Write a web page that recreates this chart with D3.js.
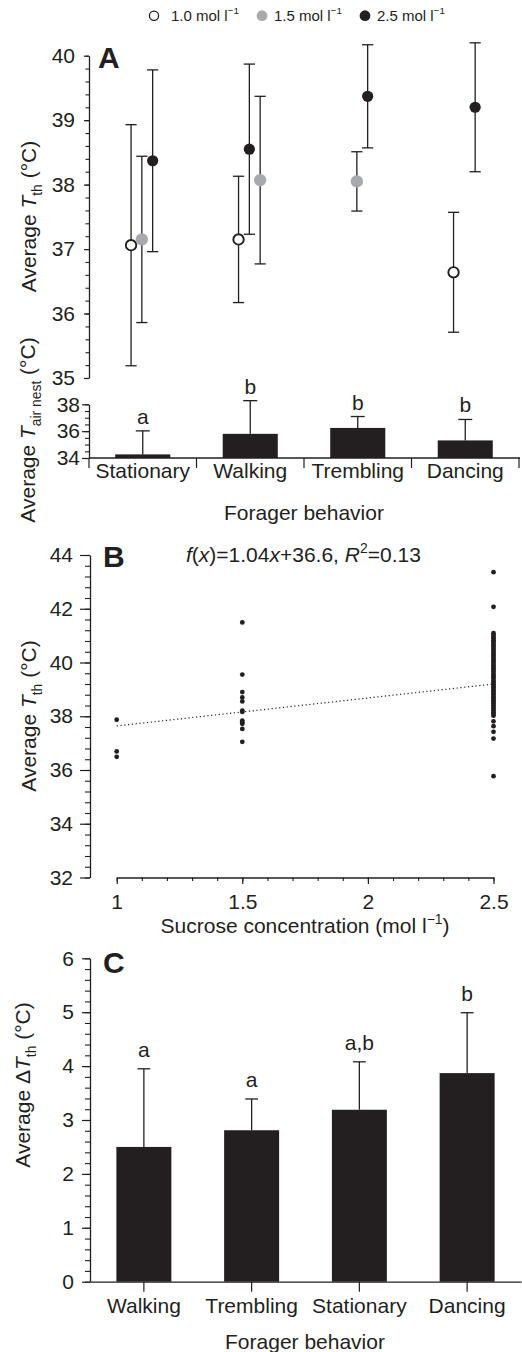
<!DOCTYPE html>
<html>
<head>
<meta charset="utf-8">
<script src="https://cdn.jsdelivr.net/npm/d3@7"></script>
<style>
body { margin: 0; background: #fff; }
text { font-family: "Liberation Sans", Arial, Helvetica, sans-serif; fill: #231f20; }
</style>
</head>
<body>
<div id="chartDiv"></div>
<script>
// ---- data ----
var behaviorsA = ["Stationary", "Walking", "Trembling", "Dancing"];
var concLabels = ["1.0", "1.5", "2.5"];

// panel A, thorax temperature per behavior and sucrose concentration
var tthBehavior = ["Stationary", "Stationary", "Stationary", "Walking", "Walking", "Walking", "Trembling", "Trembling", "Dancing", "Dancing"];
var tthConc     = ["1.0", "1.5", "2.5", "1.0", "2.5", "1.5", "1.5", "2.5", "1.0", "2.5"];
var tthSlot     = [0, 1, 2, 0, 1, 2, 1, 2, 0, 2];
var tthMean     = [37.06, 37.15, 38.37, 37.15, 38.55, 38.07, 38.05, 39.37, 36.64, 39.20];
var tthSd       = [1.87, 1.29, 1.41, 0.98, 1.32, 1.30, 0.46, 0.80, 0.93, 1.00];

// panel A, nest air temperature
var airMean    = [34.27, 35.80, 36.24, 35.31];
var airSd      = [1.75, 2.47, 0.85, 1.56];
var airLetters = ["a", "b", "b", "b"];

// panel B, individual foragers
var conc1  = [37.87, 36.69, 36.49];
var conc15 = [41.49, 39.55, 38.90, 38.70, 38.55, 38.21, 38.16, 37.84, 37.78, 37.72, 37.53, 37.05];
var conc25 = [43.36, 42.07, 41.09, 41.02, 40.96, 40.90, 40.83, 40.78, 40.71, 40.64, 40.58, 40.51,
              40.45, 40.37, 40.31, 40.24, 40.18, 40.11, 40.05, 39.98, 39.91, 39.85, 39.79, 39.72,
              39.66, 39.58, 39.52, 39.45, 39.39, 39.31, 39.26, 39.19, 39.12, 39.06, 38.99, 38.93,
              38.86, 38.80, 38.73, 38.67, 38.60, 38.54, 38.47, 38.41, 38.34, 38.28, 38.21, 38.15,
              38.08, 38.02, 37.81, 37.63, 37.42, 37.17, 35.77];
var fitSlope = 1.04, fitIntercept = 36.6;

// panel C, delta T
var behaviorsC   = ["Walking", "Trembling", "Stationary", "Dancing"];
var deltaMean    = [2.50, 2.81, 3.19, 3.87];
var deltaSd      = [1.45, 0.58, 0.89, 1.12];
var deltaLetters = ["a", "a", "a,b", "b"];

// ---- setup ----
var ink = "#231f20", grey = "#a7a9ac";
var fs = 21;

var svg = d3.select("#chartDiv").append("svg")
    .attr("width", 522).attr("height", 1352);

// text with italic / sub / sup pieces
function rich(sel, parts, size) {
  var shift = 0;
  parts.forEach(function(p) {
    var t = sel.append("tspan").text(p.t);
    var want = p.sub ? size * 0.28 : (p.sup ? -size * 0.42 : 0);
    if (want != shift) { t.attr("dy", want - shift); shift = want; }
    if (p.i) t.style("font-style", "italic");
    if (p.sub || p.sup) t.style("font-size", (size * 0.66) + "px");
  });
  return sel;
}

function styleAxis(g) {
  g.selectAll("path.domain").attr("stroke", ink).attr("stroke-width", 1.3);
  g.selectAll(".tick line").attr("stroke", ink).attr("stroke-width", 1.2);
  g.selectAll(".tick text").style("font-size", fs + "px").attr("fill", ink)
    .style("font-family", "'Liberation Sans', Arial, sans-serif");
}

function minor(g) {
  g.select("path.domain").remove();
  g.selectAll(".tick text").remove();
  g.selectAll(".tick line").attr("stroke", ink).attr("stroke-width", 1.1);
}

function yLabel(x, y, parts) {
  var t = svg.append("text")
    .attr("transform", "translate(" + x + "," + y + ") rotate(-90)")
    .attr("text-anchor", "middle").style("font-size", fs + "px");
  rich(t, parts, fs);
}

function panelLetter(x, y, s) {
  svg.append("text").attr("x", x).attr("y", y)
    .style("font-size", "30px").style("font-weight", "bold").text(s);
}

// ---- legend ----
var legendX = [154, 262, 365], legendGap = [17, 12, 12];
var concFill = {"1.0": "#fff", "1.5": grey, "2.5": ink};
var concStroke = {"1.0": ink, "1.5": "none", "2.5": "none"};
concLabels.forEach(function(c, i) {
  svg.append("circle").attr("cx", legendX[i]).attr("cy", 15.7)
    .attr("r", c == "1.0" ? 4.6 : 5.4)
    .attr("fill", concFill[c]).attr("stroke", concStroke[c]).attr("stroke-width", 1.3);
  var t = svg.append("text").attr("x", legendX[i] + legendGap[i]).attr("y", 20.7)
    .style("font-size", "15px");
  rich(t, [{t: c + " mol l"}, {t: "\u22121", sup: true}], 15);
});

// ---- panel A (top: thorax temperature) ----
var xA = d3.scaleBand().domain(behaviorsA).range([89, 519]);
var yA = d3.scaleLinear().domain([35, 40]).range([378, 55.7]);
var slot = d3.scalePoint().domain([0, 1, 2]).range([-11.7, 9.9]);

svg.append("g").attr("transform", "translate(89,0)")
  .call(d3.axisLeft(yA).tickValues(d3.range(35, 40.01, 0.2)).tickSize(3.5).tickFormat(""))
  .call(minor);
svg.append("g").attr("transform", "translate(89,0)")
  .call(d3.axisLeft(yA).ticks(5).tickSize(5).tickSizeOuter(0).tickPadding(9))
  .call(styleAxis);

var tth = tthMean.map(function(m, i) {
  return {b: tthBehavior[i], c: tthConc[i], s: tthSlot[i], m: m, sd: tthSd[i]};
});
var ptX = function(d) { return xA(d.b) + xA.bandwidth() / 2 + slot(d.s); };

var eb = svg.append("g").selectAll("g").data(tth).enter().append("g");
eb.append("line").attr("x1", ptX).attr("x2", ptX)
  .attr("y1", function(d) { return yA(d.m - d.sd); })
  .attr("y2", function(d) { return yA(d.m + d.sd); })
  .attr("stroke", ink).attr("stroke-width", 1.3);
[-1, 1].forEach(function(k) {
  eb.append("line")
    .attr("x1", function(d) { return ptX(d) - 5.6; })
    .attr("x2", function(d) { return ptX(d) + 5.6; })
    .attr("y1", function(d) { return yA(d.m + k * d.sd); })
    .attr("y2", function(d) { return yA(d.m + k * d.sd); })
    .attr("stroke", ink).attr("stroke-width", 1.3);
});
eb.append("circle").attr("cx", ptX).attr("cy", function(d) { return yA(d.m); })
  .attr("r", function(d) { return d.c == "1.0" ? 5.2 : (d.c == "1.5" ? 6.2 : 5.6); })
  .attr("fill", function(d) { return concFill[d.c]; })
  .attr("stroke", function(d) { return concStroke[d.c]; })
  .attr("stroke-width", 1.9);

panelLetter(98, 68, "A");
yLabel(36, 216.5, [{t: "Average "}, {t: "T", i: true}, {t: "th", sub: true}, {t: " (\u00b0C)"}]);

// ---- panel A (bottom: nest air temperature) ----
var xAb = d3.scaleBand().domain(behaviorsA).range([89, 519]).paddingInner(0.488).paddingOuter(0.244);
var yAb = d3.scaleLinear().domain([34, 38]).range([458, 404.3]);

svg.append("g").attr("transform", "translate(89,0)")
  .call(d3.axisLeft(yAb).tickValues(d3.range(34, 38.01, 0.5)).tickSize(4).tickFormat(""))
  .call(minor);
svg.append("g").attr("transform", "translate(89,0)")
  .call(d3.axisLeft(yAb).tickValues([34, 36, 38]).tickFormat(d3.format("d"))
    .tickSize(7).tickSizeOuter(0).tickPadding(2))
  .call(styleAxis);

var air = airMean.map(function(m, i) { return {b: behaviorsA[i], m: m, sd: airSd[i], l: airLetters[i]}; });
var cxAb = function(d) { return xAb(d.b) + xAb.bandwidth() / 2; };
var ga = svg.append("g").selectAll("g").data(air).enter().append("g");
ga.append("line").attr("x1", cxAb).attr("x2", cxAb)
  .attr("y1", function(d) { return yAb(d.m); })
  .attr("y2", function(d) { return yAb(d.m + d.sd); })
  .attr("stroke", ink).attr("stroke-width", 1.3);
ga.append("line")
  .attr("x1", function(d) { return cxAb(d) - 7; })
  .attr("x2", function(d) { return cxAb(d) + 7; })
  .attr("y1", function(d) { return yAb(d.m + d.sd); })
  .attr("y2", function(d) { return yAb(d.m + d.sd); })
  .attr("stroke", ink).attr("stroke-width", 1.3);
ga.append("rect").attr("x", function(d) { return xAb(d.b); })
  .attr("y", function(d) { return yAb(d.m); })
  .attr("width", xAb.bandwidth())
  .attr("height", function(d) { return yAb(34) - yAb(d.m); })
  .attr("fill", ink);
ga.append("text").attr("x", cxAb)
  .attr("y", function(d) { return yAb(d.m + d.sd) - 7; })
  .attr("text-anchor", "middle").style("font-size", fs + "px")
  .text(function(d) { return d.l; });

// x axis with ticks at category boundaries
var bounds = behaviorsA.map(function(b) { return xA(b); }).concat([xA.range()[1]]);
svg.append("line").attr("x1", 89).attr("x2", 520).attr("y1", 458).attr("y2", 458)
  .attr("stroke", ink).attr("stroke-width", 1.3);
svg.append("g").selectAll("line").data(bounds).enter().append("line")
  .attr("x1", function(d) { return d; }).attr("x2", function(d) { return d; })
  .attr("y1", 458).attr("y2", 468).attr("stroke", ink).attr("stroke-width", 1.2);
svg.append("g").attr("transform", "translate(0,458)")
  .call(d3.axisBottom(xA).tickSize(0).tickPadding(5.4))
  .call(styleAxis)
  .call(function(g) { g.select("path.domain").remove(); });

svg.append("text").attr("x", 304).attr("y", 520).attr("text-anchor", "middle")
  .style("font-size", fs + "px").text("Forager behavior");
yLabel(35, 430, [{t: "Average "}, {t: "T", i: true}, {t: "air nest", sub: true}, {t: " (\u00b0C)"}]);

// ---- panel B ----
var xB = d3.scaleLinear().domain([1, 2.5]).range([116.7, 493.5]);
var yB = d3.scaleLinear().domain([32, 44]).range([877.5, 555]);

svg.append("g").attr("transform", "translate(90,0)")
  .call(d3.axisLeft(yB).tickValues(d3.range(32, 44.01, 0.4)).tickSize(5).tickFormat(""))
  .call(minor);
svg.append("g").attr("transform", "translate(90,0)")
  .call(d3.axisLeft(yB).tickValues(d3.range(32, 44.01, 2)).tickSize(10).tickSizeOuter(0).tickPadding(7))
  .call(styleAxis);

svg.append("g").attr("transform", "translate(0,877.5)")
  .call(d3.axisBottom(xB).tickValues(d3.range(1, 2.501, 0.1)).tickSize(3.5).tickFormat(""))
  .call(minor);
svg.append("g").attr("transform", "translate(0,877.5)")
  .call(d3.axisBottom(xB).tickValues([1, 1.5, 2, 2.5]).tickSize(6.5).tickSizeOuter(0)
    .tickPadding(10.5).tickFormat(function(d) { return d; }))
  .call(styleAxis);

var dotsB = [];
conc1.forEach(function(v) { dotsB.push([1, v]); });
conc15.forEach(function(v) { dotsB.push([1.5, v]); });
conc25.forEach(function(v) { dotsB.push([2.5, v]); });

svg.append("line")
  .attr("x1", xB(1)).attr("y1", yB(fitSlope * 1 + fitIntercept))
  .attr("x2", xB(2.5)).attr("y2", yB(fitSlope * 2.5 + fitIntercept))
  .attr("stroke", ink).attr("stroke-width", 1.2).attr("stroke-dasharray", "1.2,2.6");

svg.append("g").selectAll("circle").data(dotsB).enter().append("circle")
  .attr("cx", function(d) { return xB(d[0]); })
  .attr("cy", function(d) { return yB(d[1]); })
  .attr("r", 2.4).attr("fill", ink);

panelLetter(103, 567, "B");
var eq = svg.append("text").attr("x", 186).attr("y", 562).style("font-size", fs + "px");
rich(eq, [{t: "f", i: true}, {t: "("}, {t: "x", i: true}, {t: ")=1.04"}, {t: "x", i: true},
          {t: "+36.6, "}, {t: "R", i: true}, {t: "2", sup: true}, {t: "=0.13"}], fs);

var tb = svg.append("text").attr("x", 305).attr("y", 933.3).attr("text-anchor", "middle")
  .style("font-size", fs + "px");
rich(tb, [{t: "Sucrose concentration (mol l"}, {t: "\u22121", sup: true}, {t: ")"}], fs);
yLabel(36, 716, [{t: "Average "}, {t: "T", i: true}, {t: "th", sub: true}, {t: " (\u00b0C)"}]);

// ---- panel C ----
var xC = d3.scaleBand().domain(behaviorsC).range([90, 521]).paddingInner(0.4896).paddingOuter(0.2448);
var yC = d3.scaleLinear().domain([0, 6]).range([1281.7, 958.3]);

svg.append("g").attr("transform", "translate(90,0)")
  .call(d3.axisLeft(yC).tickValues(d3.range(0, 6.01, 0.2)).tickSize(5).tickFormat(""))
  .call(minor);
svg.append("g").attr("transform", "translate(90,0)")
  .call(d3.axisLeft(yC).ticks(6).tickSize(8).tickSizeOuter(0).tickPadding(8))
  .call(styleAxis);

var delta = deltaMean.map(function(m, i) { return {b: behaviorsC[i], m: m, sd: deltaSd[i], l: deltaLetters[i]}; });
var cxC = function(d) { return xC(d.b) + xC.bandwidth() / 2; };
var gc = svg.append("g").selectAll("g").data(delta).enter().append("g");
gc.append("line").attr("x1", cxC).attr("x2", cxC)
  .attr("y1", function(d) { return yC(d.m); })
  .attr("y2", function(d) { return yC(d.m + d.sd); })
  .attr("stroke", ink).attr("stroke-width", 1.3);
gc.append("line")
  .attr("x1", function(d) { return cxC(d) - 6.4; })
  .attr("x2", function(d) { return cxC(d) + 6.4; })
  .attr("y1", function(d) { return yC(d.m + d.sd); })
  .attr("y2", function(d) { return yC(d.m + d.sd); })
  .attr("stroke", ink).attr("stroke-width", 1.3);
gc.append("rect").attr("x", function(d) { return xC(d.b); })
  .attr("y", function(d) { return yC(d.m); })
  .attr("width", xC.bandwidth())
  .attr("height", function(d) { return yC(0) - yC(d.m); })
  .attr("fill", ink);
gc.append("text").attr("x", cxC)
  .attr("y", function(d) { return yC(d.m + d.sd) - 12; })
  .attr("text-anchor", "middle").style("font-size", fs + "px")
  .text(function(d) { return d.l; });

svg.append("g").attr("transform", "translate(0,1281.7)")
  .call(d3.axisBottom(xC).tickSize(10).tickSizeOuter(0).tickPadding(6.5))
  .call(styleAxis);

panelLetter(103, 973, "C");
svg.append("text").attr("x", 305).attr("y", 1349).attr("text-anchor", "middle")
  .style("font-size", fs + "px").text("Forager behavior");
yLabel(30, 1085, [{t: "Average \u0394"}, {t: "T", i: true}, {t: "th", sub: true}, {t: " (\u00b0C)"}]);
</script>
</body>
</html>
